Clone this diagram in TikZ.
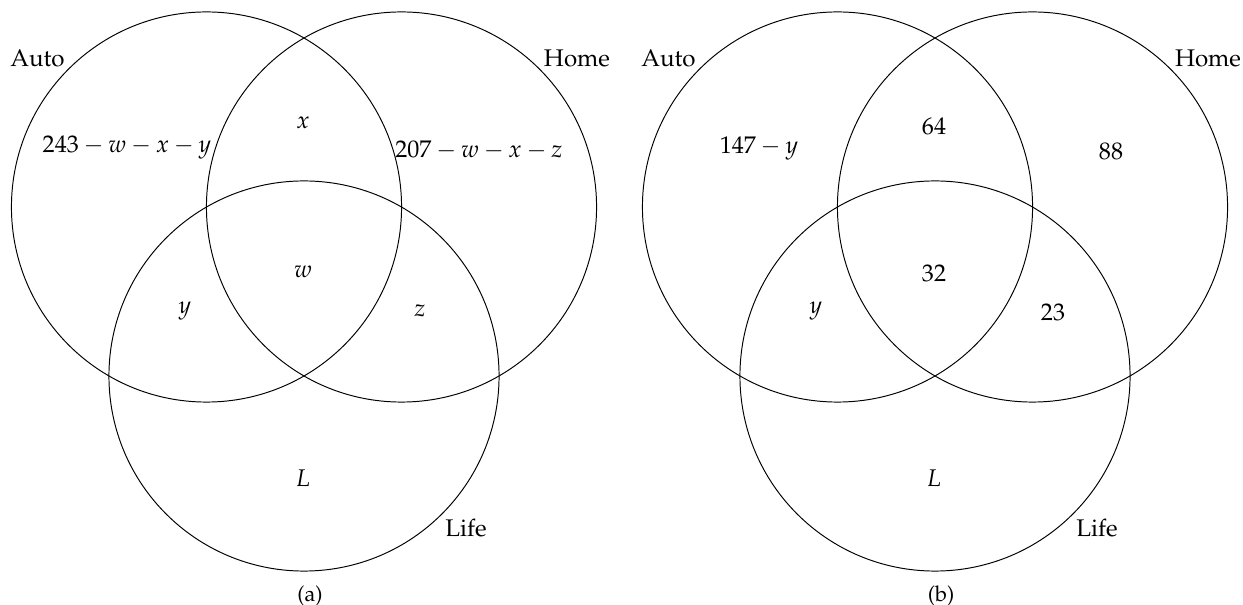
\documentclass[tikz,border=0pt]{standalone}
\usepackage[T1]{fontenc}
\usepackage{mathpazo}
\tikzset{
  setring/.style={draw,circle,minimum size=161.9pt,inner sep=0pt,outer sep=0pt},
  subcap/.style={font=\small}
}
\begin{document}
\begin{tikzpicture}[x=0.415pt,y=-0.415pt]
  \useasboundingbox (0,0) rectangle (1243,605);
  \node[setring] (autoA) at (206.5,207) {};
  \node[setring] (homeA) at (401.5,207) {};
  \node[setring] (lifeA) at (304,376) {};
  \node (autoAlbl) at (37.5,58) {Auto};
  \node (homeAlbl) at (577,58) {Home};
  \node (lifeAlbl) at (466,528) {Life};
  \node (onlyautoA) at (127,147) {$243-w-x-y$};
  \node (autohomeA) at (303,123) {$x$};
  \node (onlyhomeA) at (479,150) {$207-w-x-z$};
  \node (allA) at (303,272) {$w$};
  \node (autolifeA) at (185,311) {$y$};
  \node (homelifeA) at (420,311) {$z$};
  \node (onlylifeA) at (303,478) {$L$};
  \node[subcap] (capA) at (310,596) {(a)};
  \node[setring] (autoB) at (837.5,207) {};
  \node[setring] (homeB) at (1032.5,207) {};
  \node[setring] (lifeB) at (935,376) {};
  \node (autoBlbl) at (668.5,58) {Auto};
  \node (homeBlbl) at (1208,58) {Home};
  \node (lifeBlbl) at (1097,528) {Life};
  \node (onlyautoB) at (759,148) {$147-y$};
  \node (autohomeB) at (934,126) {64};
  \node (onlyhomeB) at (1111,151) {88};
  \node (allB) at (934,273) {32};
  \node (autolifeB) at (816,311) {$y$};
  \node (homelifeB) at (1053,312) {23};
  \node (onlylifeB) at (934,478) {$L$};
  \node[subcap] (capB) at (941,596) {(b)};
\end{tikzpicture}
\end{document}
